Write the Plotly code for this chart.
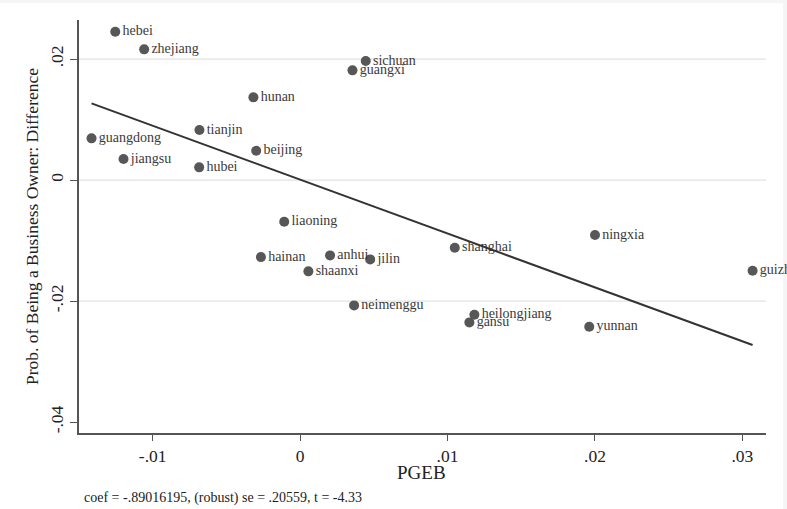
import plotly.graph_objects as go

provinces = ["hebei", "zhejiang", "sichuan", "guangxi", "hunan", "tianjin",
             "guangdong", "beijing", "jiangsu", "hubei", "liaoning", "hainan",
             "anhui", "jilin", "shaanxi", "neimenggu", "shanghai", "ningxia",
             "guizhou", "heilongjiang", "gansu", "yunnan"]
pgeb = [-0.01254, -0.01058, 0.00445, 0.00355, -0.00317, -0.00683,
        -0.01415, -0.00298, -0.01198, -0.00685, -0.00108, -0.00266,
        0.00203, 0.00475, 0.00056, 0.00366, 0.01049, 0.02000,
        0.03069, 0.01182, 0.01148, 0.01961]
diff = [0.02451, 0.02160, 0.01967, 0.01813, 0.01367, 0.00826,
        0.00689, 0.00484, 0.00347, 0.00210, -0.00689, -0.01273,
        -0.01245, -0.01311, -0.01509, -0.02071, -0.01119, -0.00909,
        -0.01499, -0.02226, -0.02352, -0.02425]

# fitted line reported in the note (intercept)
fit_coef = -0.89016195
fit_intercept = 0.00007

x_ticks = [-0.01, 0, 0.01, 0.02, 0.03]
x_tick_labels = ["-.01", "0", ".01", ".02", ".03"]
y_ticks = [-0.04, -0.02, 0, 0.02]
y_tick_labels = ["-.04", "-.02", "0", ".02"]
y_grid = [-0.02, 0, 0.02]
x_title = "PGEB"
y_title = "Prob. of Being a Business Owner: Difference"
note = "coef = -.89016195, (robust) se = .20559, t = -4.33"

FONT = "Liberation Serif, Times New Roman, serif"

fit_x = [min(pgeb), max(pgeb)]
fit_y = [fit_intercept + fit_coef * v for v in fit_x]

fig = go.Figure()
fig.add_trace(go.Scatter(
    x=pgeb, y=diff, mode="markers+text", text=provinces,
    textposition="middle right",
    textfont=dict(family=FONT, size=14, color="#3a3a3a"),
    marker=dict(size=10, color="#575757"),
    cliponaxis=False, showlegend=False, hoverinfo="skip"))
fig.add_trace(go.Scatter(
    x=fit_x, y=fit_y, mode="lines",
    line=dict(color="#333333", width=2), showlegend=False, hoverinfo="skip"))

W, H = 687, 413
shapes = [dict(type="rect", xref="paper", yref="paper",
               x0=-79/W, x1=(783-79)/W, y0=-76/H, y1=(509-3-76)/H,
               fillcolor="white", line=dict(width=0), layer="below")]
for g in y_grid:
    shapes.append(dict(type="line", xref="paper", yref="y", x0=0, x1=1,
                       y0=g, y1=g, line=dict(color="#e2e2e2", width=1.2),
                       layer="below"))

fig.update_layout(
    width=787, height=509,
    margin=dict(l=79, r=21, t=20, b=76),
    paper_bgcolor="#f5f5f5", plot_bgcolor="rgba(0,0,0,0)",
    font=dict(family=FONT, color="#222222"),
    shapes=shapes,
    xaxis=dict(range=[-0.015, 0.0316], tickvals=x_ticks, ticktext=x_tick_labels,
               showgrid=False, zeroline=False, showline=True,
               linecolor="#555555", linewidth=1.5,
               ticks="outside", ticklen=6, tickcolor="#555555",
               tickfont=dict(family=FONT, size=17.5, color="#222222")),
    yaxis=dict(range=[-0.0418, 0.02645], tickvals=y_ticks, ticktext=y_tick_labels,
               showgrid=False, zeroline=False, showline=True,
               linecolor="#555555", linewidth=1.5,
               ticks="outside", ticklen=7, tickcolor="#555555", tickangle=-90,
               tickfont=dict(family=FONT, size=17.5, color="#222222"),
               title=dict(text=y_title,
                          font=dict(family=FONT, size=17.5, color="#222222"),
                          standoff=4)),
    annotations=[
        dict(text=x_title, xref="paper", yref="paper",
             x=(421-79)/W, y=-(472-433)/H, xanchor="center", yanchor="middle",
             showarrow=False, font=dict(family=FONT, size=19, color="#222222")),
        dict(text=note, xref="paper", yref="paper",
             x=(82-79)/W, y=-(498-433)/H, xanchor="left", yanchor="middle",
             showarrow=False, font=dict(family=FONT, size=14, color="#222222"))],
)

fig.write_html("out.html")
